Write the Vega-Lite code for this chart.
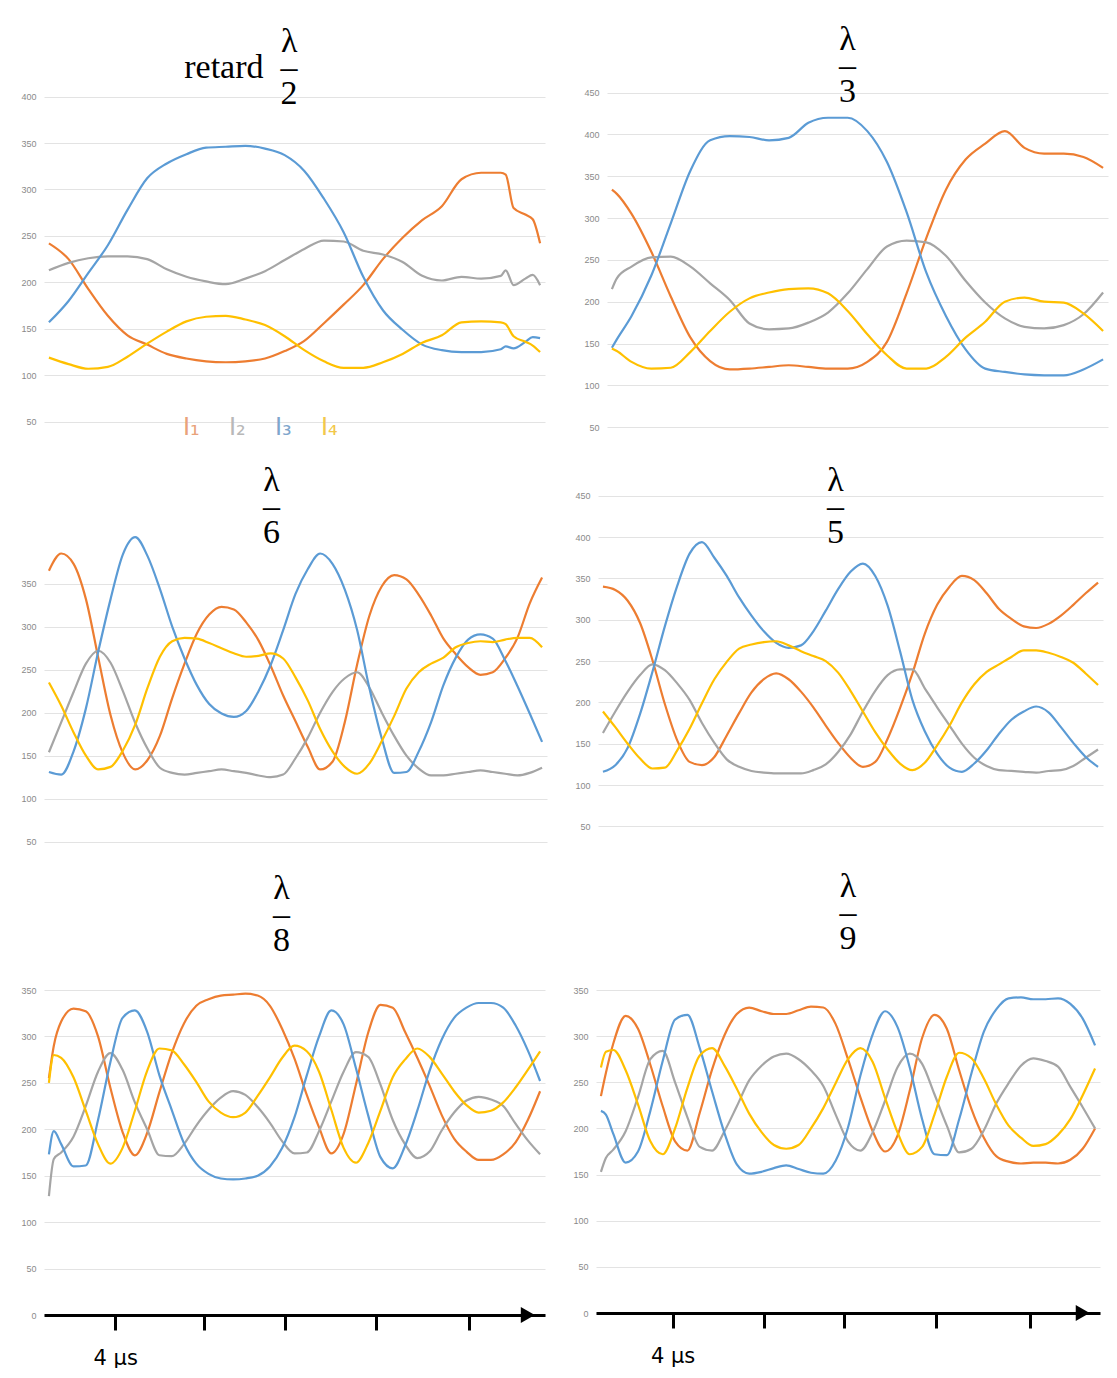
{
"$schema": "https://vega.github.io/schema/vega-lite/v6.json",
"background": "#ffffff",
"padding": {"left": 20, "top": 22, "right": 5, "bottom": 0},
"config": {
  "view": {"stroke": null},
  "axis": {"grid": true, "gridColor": "#E3E3E3", "gridWidth": 1, "domain": false, "ticks": false, "labelColor": "#8A8A8A", "labelFontSize": 9, "labelFont": "Liberation Sans", "labelPadding": 8},
  "title": {"font": "Liberation Serif", "fontSize": 34, "fontWeight": "normal", "color": "#000000", "lineHeight": 26, "anchor": "middle", "frame": "group"},
  "line": {"strokeWidth": 2.2, "interpolate": "monotone", "clip": true}
},
"datasets": {
"p2": [
{"x":0,"I1":242,"I2":213,"I3":157,"I4":119},
{"x":4,"I1":225,"I2":221,"I3":180,"I4":112},
{"x":8,"I1":193,"I2":226,"I3":210,"I4":107},
{"x":12,"I1":164,"I2":228,"I3":240,"I4":109},
{"x":16,"I1":143,"I2":228,"I3":278,"I4":120},
{"x":20,"I1":133,"I2":225,"I3":312,"I4":134},
{"x":24,"I1":123,"I2":214,"I3":328,"I4":147},
{"x":28,"I1":118,"I2":206,"I3":338,"I4":158},
{"x":32,"I1":115,"I2":201,"I3":345,"I4":163},
{"x":36,"I1":114,"I2":198,"I3":346,"I4":164},
{"x":40,"I1":115,"I2":204,"I3":347,"I4":160},
{"x":44,"I1":118,"I2":212,"I3":344,"I4":154},
{"x":48,"I1":126,"I2":224,"I3":337,"I4":142},
{"x":52,"I1":137,"I2":236,"I3":320,"I4":127},
{"x":56,"I1":156,"I2":245,"I3":290,"I4":115},
{"x":60,"I1":176,"I2":244,"I3":254,"I4":108},
{"x":64,"I1":197,"I2":234,"I3":206,"I4":108},
{"x":68,"I1":225,"I2":230,"I3":170,"I4":114},
{"x":72,"I1":248,"I2":222,"I3":149,"I4":123},
{"x":76,"I1":267,"I2":207,"I3":133,"I4":135},
{"x":80,"I1":282,"I2":202,"I3":127,"I4":143},
{"x":84,"I1":311,"I2":206,"I3":125,"I4":157},
{"x":88,"I1":318,"I2":204,"I3":125,"I4":158},
{"x":92,"I1":318,"I2":207,"I3":128,"I4":157},
{"x":93,"I1":316,"I2":213,"I3":131,"I4":155},
{"x":94.6,"I1":280,"I2":197,"I3":129,"I4":142},
{"x":97,"I1":273,"I2":204,"I3":136,"I4":136},
{"x":98.5,"I1":268,"I2":208,"I3":141,"I4":132},
{"x":100,"I1":242,"I2":197,"I3":140,"I4":125}
],
"p3": [
{"x":0,"I1":334,"I2":215,"I3":145,"I4":144},
{"x":1,"I1":329,"I2":228,"I3":155,"I4":141},
{"x":4,"I1":305,"I2":242,"I3":183,"I4":128},
{"x":8,"I1":260,"I2":253,"I3":231,"I4":120},
{"x":12,"I1":206,"I2":254,"I3":294,"I4":121},
{"x":16,"I1":157,"I2":242,"I3":357,"I4":140},
{"x":20,"I1":129,"I2":222,"I3":393,"I4":165},
{"x":24,"I1":119,"I2":202,"I3":398,"I4":188},
{"x":28,"I1":120,"I2":174,"I3":397,"I4":204},
{"x":32,"I1":122,"I2":167,"I3":393,"I4":211},
{"x":36,"I1":124,"I2":168,"I3":396,"I4":215},
{"x":40,"I1":122,"I2":175,"I3":414,"I4":216},
{"x":44,"I1":120,"I2":187,"I3":420,"I4":210},
{"x":48,"I1":120,"I2":210,"I3":420,"I4":189},
{"x":52,"I1":128,"I2":239,"I3":404,"I4":161},
{"x":56,"I1":152,"I2":266,"I3":367,"I4":136},
{"x":60,"I1":210,"I2":273,"I3":307,"I4":120},
{"x":64,"I1":276,"I2":271,"I3":235,"I4":120},
{"x":68,"I1":334,"I2":255,"I3":183,"I4":134},
{"x":72,"I1":370,"I2":225,"I3":143,"I4":157},
{"x":76,"I1":389,"I2":199,"I3":120,"I4":176},
{"x":80,"I1":404,"I2":180,"I3":116,"I4":200},
{"x":84,"I1":384,"I2":170,"I3":113,"I4":205},
{"x":88,"I1":377,"I2":168,"I3":112,"I4":200},
{"x":92,"I1":377,"I2":172,"I3":112,"I4":199},
{"x":96,"I1":373,"I2":185,"I3":119,"I4":186},
{"x":100,"I1":360,"I2":211,"I3":131,"I4":165}
],
"p6": [
{"x":0,"I1":365,"I2":154,"I3":131,"I4":235},
{"x":2.5,"I1":385,"I2":189,"I3":128,"I4":208},
{"x":5,"I1":373,"I2":224,"I3":155,"I4":177},
{"x":7.5,"I1":332,"I2":257,"I3":205,"I4":150},
{"x":10,"I1":264,"I2":272,"I3":271,"I4":134},
{"x":12.5,"I1":197,"I2":258,"I3":332,"I4":137},
{"x":15,"I1":153,"I2":225,"I3":384,"I4":156},
{"x":17.5,"I1":134,"I2":188,"I3":404,"I4":186},
{"x":20,"I1":145,"I2":158,"I3":382,"I4":229},
{"x":22.5,"I1":173,"I2":136,"I3":344,"I4":265},
{"x":25,"I1":217,"I2":130,"I3":300,"I4":283},
{"x":27.5,"I1":257,"I2":128,"I3":263,"I4":287},
{"x":30,"I1":292,"I2":130,"I3":232,"I4":286},
{"x":32.5,"I1":314,"I2":132,"I3":210,"I4":281},
{"x":35,"I1":323,"I2":134,"I3":199,"I4":275},
{"x":37.5,"I1":320,"I2":132,"I3":195,"I4":269},
{"x":40,"I1":305,"I2":130,"I3":202,"I4":265},
{"x":42.5,"I1":284,"I2":127,"I3":225,"I4":266},
{"x":45,"I1":254,"I2":125,"I3":256,"I4":269},
{"x":47.5,"I1":220,"I2":128,"I3":296,"I4":263},
{"x":50,"I1":190,"I2":147,"I3":338,"I4":241},
{"x":52.5,"I1":160,"I2":171,"I3":367,"I4":214},
{"x":55,"I1":134,"I2":200,"I3":385,"I4":181},
{"x":57.5,"I1":143,"I2":224,"I3":373,"I4":155},
{"x":60,"I1":189,"I2":240,"I3":343,"I4":137},
{"x":62.5,"I1":256,"I2":247,"I3":296,"I4":129},
{"x":65,"I1":313,"I2":229,"I3":228,"I4":141},
{"x":67.5,"I1":347,"I2":200,"I3":170,"I4":167},
{"x":70,"I1":360,"I2":173,"I3":130,"I4":196},
{"x":72.5,"I1":355,"I2":150,"I3":131,"I4":228},
{"x":75,"I1":337,"I2":135,"I3":155,"I4":247},
{"x":77.5,"I1":313,"I2":127,"I3":189,"I4":257},
{"x":80,"I1":286,"I2":127,"I3":232,"I4":264},
{"x":82.5,"I1":268,"I2":129,"I3":264,"I4":276},
{"x":85,"I1":253,"I2":131,"I3":285,"I4":281},
{"x":87.5,"I1":244,"I2":133,"I3":291,"I4":283},
{"x":90,"I1":247,"I2":131,"I3":286,"I4":282},
{"x":92.5,"I1":263,"I2":129,"I3":261,"I4":285},
{"x":95,"I1":287,"I2":127,"I3":231,"I4":287},
{"x":97.5,"I1":327,"I2":130,"I3":199,"I4":287},
{"x":100,"I1":357,"I2":136,"I3":166,"I4":276}
],
"p5": [
{"x":0,"I1":340,"I2":163,"I3":116,"I4":189},
{"x":2.5,"I1":336,"I2":189,"I3":124,"I4":170},
{"x":5,"I1":323,"I2":213,"I3":145,"I4":150},
{"x":7.5,"I1":296,"I2":233,"I3":186,"I4":132},
{"x":10,"I1":251,"I2":246,"I3":237,"I4":120},
{"x":12.5,"I1":198,"I2":239,"I3":292,"I4":121},
{"x":15,"I1":154,"I2":223,"I3":341,"I4":142},
{"x":17.5,"I1":128,"I2":203,"I3":380,"I4":168},
{"x":20,"I1":124,"I2":175,"I3":394,"I4":199},
{"x":22.5,"I1":134,"I2":151,"I3":375,"I4":228},
{"x":25,"I1":160,"I2":131,"I3":353,"I4":249},
{"x":27.5,"I1":187,"I2":122,"I3":327,"I4":265},
{"x":30,"I1":212,"I2":117,"I3":305,"I4":270},
{"x":32.5,"I1":228,"I2":115,"I3":286,"I4":273},
{"x":35,"I1":235,"I2":114,"I3":272,"I4":274},
{"x":37.5,"I1":228,"I2":114,"I3":266,"I4":269},
{"x":40,"I1":213,"I2":114,"I3":269,"I4":262},
{"x":42.5,"I1":194,"I2":118,"I3":286,"I4":256},
{"x":45,"I1":172,"I2":125,"I3":311,"I4":250},
{"x":47.5,"I1":151,"I2":140,"I3":337,"I4":236},
{"x":50,"I1":133,"I2":161,"I3":358,"I4":214},
{"x":52.5,"I1":122,"I2":189,"I3":368,"I4":189},
{"x":55,"I1":128,"I2":214,"I3":353,"I4":164},
{"x":57.5,"I1":156,"I2":233,"I3":317,"I4":143},
{"x":60,"I1":193,"I2":240,"I3":262,"I4":126},
{"x":62.5,"I1":235,"I2":240,"I3":203,"I4":118},
{"x":65,"I1":283,"I2":217,"I3":165,"I4":127},
{"x":67.5,"I1":318,"I2":194,"I3":138,"I4":148},
{"x":70,"I1":340,"I2":172,"I3":121,"I4":172},
{"x":72.5,"I1":353,"I2":150,"I3":116,"I4":200},
{"x":75,"I1":348,"I2":133,"I3":126,"I4":222},
{"x":77.5,"I1":332,"I2":123,"I3":142,"I4":237},
{"x":80,"I1":313,"I2":118,"I3":162,"I4":246},
{"x":82.5,"I1":301,"I2":117,"I3":179,"I4":255},
{"x":85,"I1":292,"I2":116,"I3":189,"I4":263},
{"x":87.5,"I1":290,"I2":115,"I3":195,"I4":263},
{"x":90,"I1":295,"I2":117,"I3":188,"I4":260},
{"x":92.5,"I1":305,"I2":118,"I3":170,"I4":255},
{"x":95,"I1":318,"I2":123,"I3":151,"I4":248},
{"x":97.5,"I1":332,"I2":133,"I3":134,"I4":235},
{"x":100,"I1":345,"I2":143,"I3":122,"I4":221}
],
"p8": [
{"x":0,"I1":255,"I2":128,"I3":173,"I4":250},
{"x":1,"I1":290,"I2":168,"I3":198,"I4":280},
{"x":2.5,"I1":316,"I2":175,"I3":184,"I4":277},
{"x":5,"I1":330,"I2":192,"I3":160,"I4":256},
{"x":7.5,"I1":327,"I2":225,"I3":161,"I4":220},
{"x":10,"I1":300,"I2":262,"I3":210,"I4":184},
{"x":12.5,"I1":245,"I2":282,"I3":272,"I4":163},
{"x":15,"I1":197,"I2":264,"I3":320,"I4":180},
{"x":17.5,"I1":172,"I2":229,"I3":328,"I4":220},
{"x":20,"I1":196,"I2":200,"I3":305,"I4":263},
{"x":22.5,"I1":240,"I2":172,"I3":258,"I4":287},
{"x":25,"I1":282,"I2":171,"I3":221,"I4":285},
{"x":27.5,"I1":314,"I2":184,"I3":185,"I4":270},
{"x":30,"I1":333,"I2":204,"I3":163,"I4":251},
{"x":32.5,"I1":340,"I2":221,"I3":152,"I4":230},
{"x":35,"I1":344,"I2":234,"I3":147,"I4":218},
{"x":37.5,"I1":345,"I2":241,"I3":146,"I4":213},
{"x":40,"I1":346,"I2":237,"I3":147,"I4":218},
{"x":42.5,"I1":344,"I2":224,"I3":150,"I4":236},
{"x":45,"I1":333,"I2":207,"I3":160,"I4":256},
{"x":47.5,"I1":308,"I2":187,"I3":180,"I4":277},
{"x":50,"I1":276,"I2":174,"I3":213,"I4":290},
{"x":52.5,"I1":237,"I2":175,"I3":258,"I4":284},
{"x":55,"I1":202,"I2":198,"I3":300,"I4":262},
{"x":57.5,"I1":174,"I2":230,"I3":328,"I4":221},
{"x":60,"I1":195,"I2":262,"I3":313,"I4":180},
{"x":62.5,"I1":248,"I2":283,"I3":266,"I4":164},
{"x":65,"I1":304,"I2":278,"I3":215,"I4":185},
{"x":67.5,"I1":334,"I2":248,"I3":170,"I4":220},
{"x":70,"I1":331,"I2":210,"I3":158,"I4":256},
{"x":72.5,"I1":305,"I2":184,"I3":182,"I4":275},
{"x":75,"I1":277,"I2":169,"I3":220,"I4":287},
{"x":77.5,"I1":247,"I2":176,"I3":263,"I4":278},
{"x":80,"I1":215,"I2":199,"I3":297,"I4":260},
{"x":82.5,"I1":190,"I2":218,"I3":320,"I4":241},
{"x":85,"I1":176,"I2":231,"I3":331,"I4":226},
{"x":87.5,"I1":167,"I2":235,"I3":336,"I4":218},
{"x":90,"I1":167,"I2":232,"I3":336,"I4":220},
{"x":92.5,"I1":173,"I2":225,"I3":331,"I4":229},
{"x":95,"I1":186,"I2":206,"I3":312,"I4":245},
{"x":97.5,"I1":210,"I2":188,"I3":285,"I4":264},
{"x":100,"I1":241,"I2":173,"I3":252,"I4":284}
],
"p9": [
{"x":0,"I1":235,"I2":153,"I3":219,"I4":266},
{"x":1,"I1":260,"I2":168,"I3":215,"I4":283},
{"x":2.5,"I1":292,"I2":177,"I3":194,"I4":285},
{"x":5,"I1":322,"I2":197,"I3":163,"I4":263},
{"x":7.5,"I1":308,"I2":234,"I3":175,"I4":226},
{"x":10,"I1":269,"I2":275,"I3":219,"I4":186},
{"x":12.5,"I1":224,"I2":284,"I3":273,"I4":172},
{"x":15,"I1":186,"I2":250,"I3":318,"I4":200},
{"x":17.5,"I1":176,"I2":212,"I3":323,"I4":244},
{"x":20,"I1":217,"I2":180,"I3":287,"I4":279},
{"x":22.5,"I1":264,"I2":176,"I3":240,"I4":287},
{"x":25,"I1":301,"I2":197,"I3":195,"I4":268},
{"x":27.5,"I1":324,"I2":224,"I3":161,"I4":243},
{"x":30,"I1":331,"I2":252,"I3":151,"I4":216},
{"x":32.5,"I1":327,"I2":268,"I3":153,"I4":196},
{"x":35,"I1":324,"I2":278,"I3":157,"I4":182},
{"x":37.5,"I1":324,"I2":281,"I3":160,"I4":178},
{"x":40,"I1":328,"I2":275,"I3":156,"I4":182},
{"x":42.5,"I1":332,"I2":263,"I3":152,"I4":200},
{"x":45,"I1":331,"I2":246,"I3":151,"I4":222},
{"x":47.5,"I1":313,"I2":215,"I3":165,"I4":249},
{"x":50,"I1":275,"I2":186,"I3":201,"I4":275},
{"x":52.5,"I1":234,"I2":176,"I3":257,"I4":287},
{"x":55,"I1":197,"I2":196,"I3":302,"I4":272},
{"x":57.5,"I1":175,"I2":230,"I3":327,"I4":233},
{"x":60,"I1":192,"I2":266,"I3":310,"I4":196},
{"x":62.5,"I1":241,"I2":281,"I3":266,"I4":172},
{"x":65,"I1":298,"I2":270,"I3":210,"I4":180},
{"x":67.5,"I1":323,"I2":237,"I3":172,"I4":215},
{"x":70,"I1":308,"I2":203,"I3":171,"I4":256},
{"x":72.5,"I1":263,"I2":174,"I3":210,"I4":282},
{"x":75,"I1":221,"I2":178,"I3":260,"I4":276},
{"x":77.5,"I1":190,"I2":198,"I3":305,"I4":254},
{"x":80,"I1":170,"I2":227,"I3":329,"I4":226},
{"x":82.5,"I1":164,"I2":249,"I3":341,"I4":203},
{"x":85,"I1":162,"I2":268,"I3":342,"I4":190},
{"x":87.5,"I1":163,"I2":276,"I3":340,"I4":181},
{"x":90,"I1":163,"I2":273,"I3":340,"I4":183},
{"x":92.5,"I1":162,"I2":267,"I3":341,"I4":193},
{"x":95,"I1":166,"I2":245,"I3":335,"I4":210},
{"x":97.5,"I1":178,"I2":223,"I3":319,"I4":236},
{"x":100,"I1":200,"I2":200,"I3":290,"I4":265}
]
},
"spacing": 3,
"resolve": {"scale": {"color": "independent"}},
"vconcat": [
{
"spacing": 38,
"resolve": {"scale": {"color": "independent"}},
"hconcat": [
{
"width": 501, "height": 357,
"data": {"name": "p2"},
"transform": [{"fold": ["I1","I2","I3","I4"], "as": ["series","value"]}],
"title": {"text": ["λ", "retard\u00a0\u00a0–", "2"], "align": "right", "offset": -20, "dx": 3},
"mark": {"type": "line", "clip": true},
"encoding": {
"x": {"field": "x", "type": "quantitative", "scale": {"domain": [-1, 101], "nice": false, "zero": false}, "axis": null},
"y": {"field": "value", "type": "quantitative", "scale": {"domain": [21.7, 406], "nice": false, "zero": false}, "axis": {"values": [50,100,150,200,250,300,350,400], "title": null}},
"color": {"field": "series", "type": "nominal", "scale": {"domain": ["I1","I2","I3","I4"], "range": ["#ED7D31","#A5A5A5","#5B9BD5","#FFC000"]},
 "legend": {"orient": "none", "legendX": 115, "legendY": 325, "direction": "horizontal", "title": null, "symbolOpacity": 0, "symbolSize": 0, "symbolStrokeWidth": 0, "labelOffset": 0, "labelFont": "DejaVu Sans", "labelFontSize": 24, "columnPadding": 5,
  "labelExpr": "datum.label === 'I1' ? 'I₁' : datum.label === 'I2' ? 'I₂' : datum.label === 'I3' ? 'I₃' : 'I₄'",
  "labelColor": {"expr": "datum.value === 'I1' ? '#E9A27A' : datum.value === 'I2' ? '#B8B8B8' : datum.value === 'I3' ? '#7FA6CC' : '#F2C84B'"}}}
}
},
{
"width": 501, "height": 370,
"data": {"name": "p3"},
"transform": [{"fold": ["I1","I2","I3","I4"], "as": ["series","value"]}],
"title": {"text": ["λ", "–", "3"], "offset": -20, "dx": -10},
"mark": {"type": "line", "clip": true},
"encoding": {
"x": {"field": "x", "type": "quantitative", "scale": {"domain": [-1, 101], "nice": false, "zero": false}, "axis": null},
"y": {"field": "value", "type": "quantitative", "scale": {"domain": [9.5, 452], "nice": false, "zero": false}, "axis": {"values": [50,100,150,200,250,300,350,400,450], "title": null}},
"color": {"field": "series", "type": "nominal", "scale": {"domain": ["I1","I2","I3","I4"], "range": ["#ED7D31","#A5A5A5","#5B9BD5","#FFC000"]}, "legend": null}
}
}
]
},
{
"spacing": 27,
"resolve": {"scale": {"color": "independent"}},
"hconcat": [
{
"width": 503, "height": 378,
"data": {"name": "p6"},
"transform": [{"fold": ["I1","I2","I3","I4"], "as": ["series","value"]}],
"title": {"text": ["λ", "–", "6"], "offset": -61, "dx": -24},
"mark": {"type": "line", "clip": true},
"encoding": {
"x": {"field": "x", "type": "quantitative", "scale": {"domain": [-1, 101], "nice": false, "zero": false}, "axis": null},
"y": {"field": "value", "type": "quantitative", "scale": {"domain": [20.6, 460], "nice": false, "zero": false}, "axis": {"values": [50,100,150,200,250,300,350], "title": null}},
"color": {"field": "series", "type": "nominal", "scale": {"domain": ["I1","I2","I3","I4"], "range": ["#ED7D31","#A5A5A5","#5B9BD5","#FFC000"]}, "legend": null}
}
},
{
"width": 505, "height": 378,
"data": {"name": "p5"},
"transform": [{"fold": ["I1","I2","I3","I4"], "as": ["series","value"]}],
"title": {"text": ["λ", "–", "5"], "offset": -61, "dx": -15},
"mark": {"type": "line", "clip": true},
"encoding": {
"x": {"field": "x", "type": "quantitative", "scale": {"domain": [-1, 101], "nice": false, "zero": false}, "axis": null},
"y": {"field": "value", "type": "quantitative", "scale": {"domain": [0.8, 458.2], "nice": false, "zero": false}, "axis": {"values": [50,100,150,200,250,300,350,400,450], "title": null}},
"color": {"field": "series", "type": "nominal", "scale": {"domain": ["I1","I2","I3","I4"], "range": ["#ED7D31","#A5A5A5","#5B9BD5","#FFC000"]}, "legend": null}
}
}
]
},
{
"spacing": 27,
"resolve": {"scale": {"color": "independent"}},
"hconcat": [
{
"width": 501, "height": 325,
"title": {"text": ["λ", "–", "8"], "offset": 28, "dx": -13},
"layer": [
{
"data": {"name": "p8"},
"transform": [{"fold": ["I1","I2","I3","I4"], "as": ["series","value"]}],
"mark": {"type": "line", "clip": true},
"encoding": {
"x": {"field": "x", "type": "quantitative", "scale": {"domain": [-1, 101], "nice": false, "zero": false},
 "axis": {"values": [13.5, 31.5, 48, 66.5, 85.5], "title": null, "grid": false, "domain": true, "domainColor": "#000000", "domainWidth": 3, "ticks": true, "tickColor": "#000000", "tickWidth": 3, "tickSize": 15, "labelExpr": "datum.index === 0 ? '4 μs' : ''", "labelFont": "DejaVu Sans", "labelFontSize": 21, "labelColor": "#000000", "labelPadding": 17, "labelOverlap": false, "labelFlush": false, "labelAngle": 0}},
"y": {"field": "value", "type": "quantitative", "scale": {"domain": [0, 350], "nice": false, "zero": false}, "axis": {"values": [0,50,100,150,200,250,300,350], "title": null}},
"color": {"field": "series", "type": "nominal", "scale": {"domain": ["I1","I2","I3","I4"], "range": ["#ED7D31","#A5A5A5","#5B9BD5","#FFC000"]}, "legend": null}
}
},
{
"data": {"values": [{}]},
"mark": {"type": "point", "shape": "triangle-right", "filled": true, "size": 260, "color": "#000000", "opacity": 1, "clip": false},
"encoding": {"x": {"datum": 97.5}, "y": {"datum": 0}}
}
]
},
{
"width": 504, "height": 323,
"title": {"text": ["λ", "–", "9"], "offset": 30, "dx": 0},
"layer": [
{
"data": {"name": "p9"},
"transform": [{"fold": ["I1","I2","I3","I4"], "as": ["series","value"]}],
"mark": {"type": "line", "clip": true},
"encoding": {
"x": {"field": "x", "type": "quantitative", "scale": {"domain": [-1, 101], "nice": false, "zero": false},
 "axis": {"values": [14.5, 33, 49.2, 67.8, 86.8], "title": null, "grid": false, "domain": true, "domainColor": "#000000", "domainWidth": 3, "ticks": true, "tickColor": "#000000", "tickWidth": 3, "tickSize": 15, "labelExpr": "datum.index === 0 ? '4 μs' : ''", "labelFont": "DejaVu Sans", "labelFontSize": 21, "labelColor": "#000000", "labelPadding": 17, "labelOverlap": false, "labelFlush": false, "labelAngle": 0}},
"y": {"field": "value", "type": "quantitative", "scale": {"domain": [0, 350], "nice": false, "zero": false}, "axis": {"values": [0,50,100,150,200,250,300,350], "title": null}},
"color": {"field": "series", "type": "nominal", "scale": {"domain": ["I1","I2","I3","I4"], "range": ["#ED7D31","#A5A5A5","#5B9BD5","#FFC000"]}, "legend": null}
}
},
{
"data": {"values": [{}]},
"mark": {"type": "point", "shape": "triangle-right", "filled": true, "size": 260, "color": "#000000", "opacity": 1, "clip": false},
"encoding": {"x": {"datum": 97.5}, "y": {"datum": 0}}
}
]
}
]
}
]
}
